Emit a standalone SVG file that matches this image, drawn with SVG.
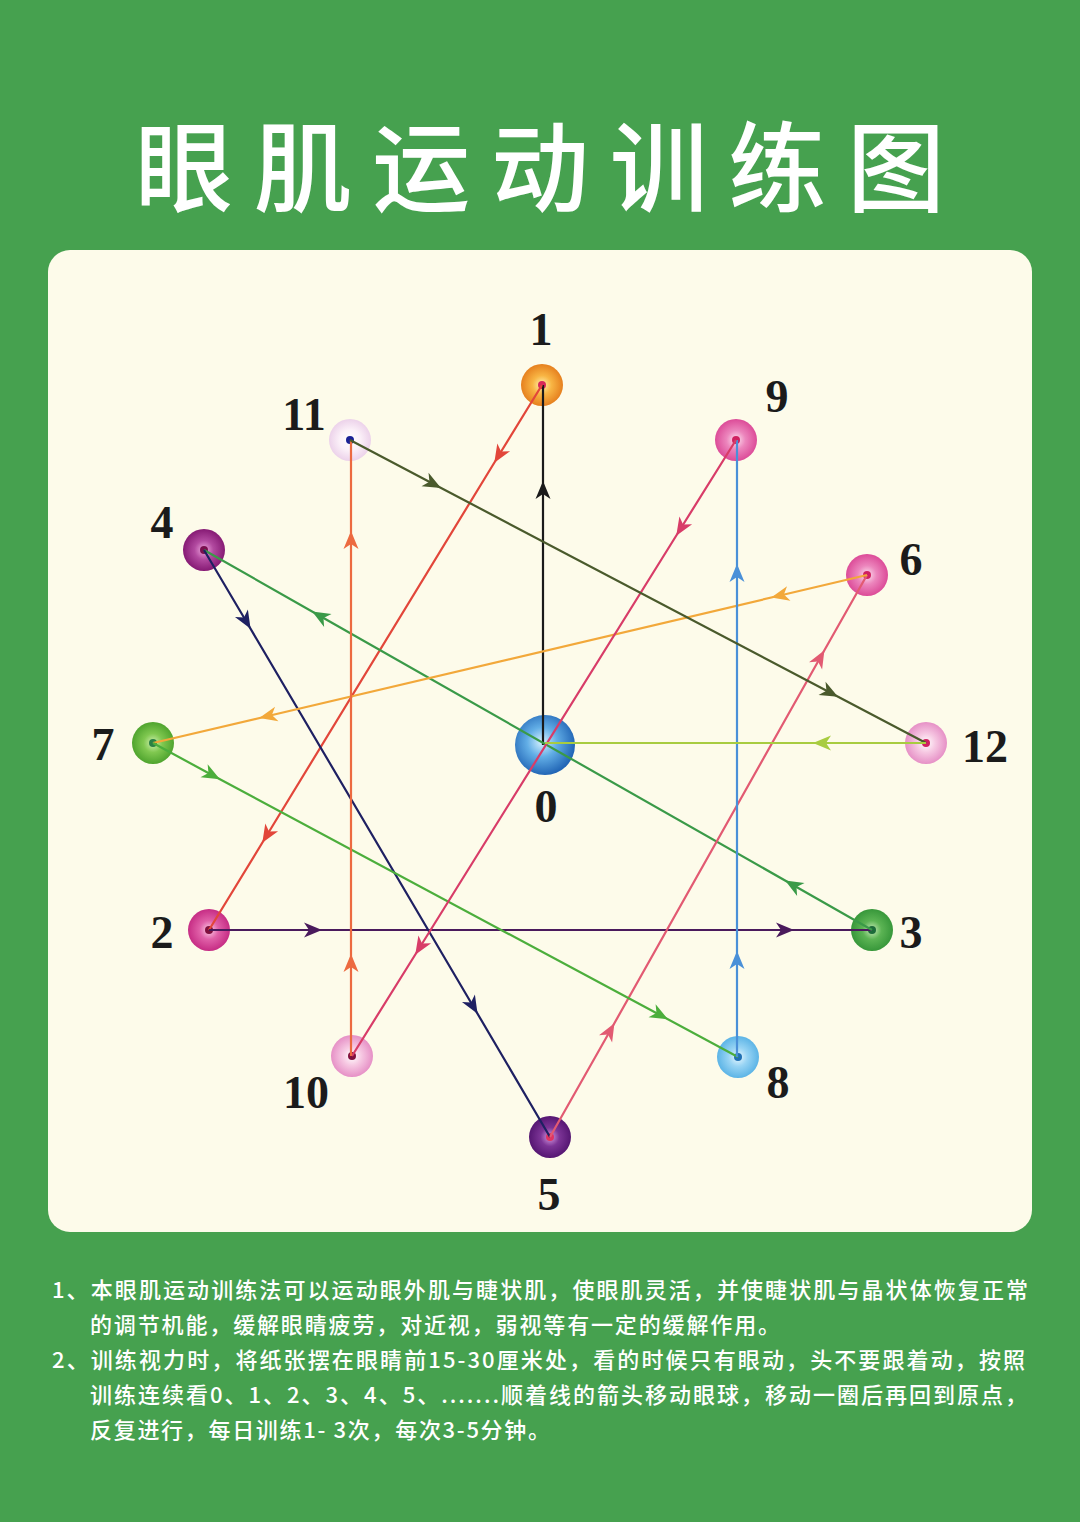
<svg xmlns="http://www.w3.org/2000/svg" width="1080" height="1522" viewBox="0 0 1080 1522">
<style>
.lbl{font-family:"Liberation Serif","DejaVu Serif",serif;font-weight:700;font-size:46px;fill:#1b1b1b;text-anchor:middle}
.title{font-family:"Noto Sans CJK SC","Noto Sans",sans-serif;font-weight:500;font-size:98px;fill:#ffffff}
.note{font-family:"Noto Sans CJK SC","Noto Sans",sans-serif;font-weight:500;font-size:22px;fill:#ffffff}
.cn{fill:none;stroke-width:2.2;stroke-linejoin:round}
</style>
<defs>
<radialGradient id="g1"><stop offset="0" stop-color="#fff3b0"/><stop offset="0.45" stop-color="#f8b544"/><stop offset="1" stop-color="#e6801e"/></radialGradient>
<radialGradient id="gpink"><stop offset="0" stop-color="#fde3f0"/><stop offset="0.45" stop-color="#ec86bd"/><stop offset="1" stop-color="#dc4b98"/></radialGradient>
<radialGradient id="g11"><stop offset="0" stop-color="#ffffff"/><stop offset="0.5" stop-color="#fbf0f8"/><stop offset="1" stop-color="#ecd2ea"/></radialGradient>
<radialGradient id="g4"><stop offset="0" stop-color="#f0a8e0"/><stop offset="0.45" stop-color="#b24aa0"/><stop offset="1" stop-color="#861a74"/></radialGradient>
<radialGradient id="g7"><stop offset="0" stop-color="#d0f0b0"/><stop offset="0.45" stop-color="#80c850"/><stop offset="1" stop-color="#4fa42e"/></radialGradient>
<radialGradient id="g0" cx="0.45" cy="0.45" r="0.55"><stop offset="0" stop-color="#d8f2ff"/><stop offset="0.45" stop-color="#62aee6"/><stop offset="1" stop-color="#2266b6"/></radialGradient>
<radialGradient id="glpink"><stop offset="0" stop-color="#ffffff"/><stop offset="0.45" stop-color="#f6c8e2"/><stop offset="1" stop-color="#e690c6"/></radialGradient>
<radialGradient id="g2"><stop offset="0" stop-color="#fcd0e8"/><stop offset="0.45" stop-color="#e060a8"/><stop offset="1" stop-color="#c62c84"/></radialGradient>
<radialGradient id="g3"><stop offset="0" stop-color="#c8eab8"/><stop offset="0.45" stop-color="#5cb454"/><stop offset="1" stop-color="#37973a"/></radialGradient>
<radialGradient id="g8"><stop offset="0" stop-color="#eaf8ff"/><stop offset="0.45" stop-color="#98d4f4"/><stop offset="1" stop-color="#5cb4e6"/></radialGradient>
<radialGradient id="g5"><stop offset="0" stop-color="#d69ae0"/><stop offset="0.45" stop-color="#7c3496"/><stop offset="1" stop-color="#551672"/></radialGradient>
<marker id="a01" viewBox="-10 -8 20 16" refX="0" refY="0" markerWidth="20" markerHeight="16" markerUnits="userSpaceOnUse" orient="auto"><path d="M9,0 L-9,-7.5 L-4,0 L-9,7.5 Z" fill="#1a1a1a"/></marker>
<marker id="a12" viewBox="-10 -8 20 16" refX="0" refY="0" markerWidth="20" markerHeight="16" markerUnits="userSpaceOnUse" orient="auto"><path d="M9,0 L-9,-7.5 L-4,0 L-9,7.5 Z" fill="#e2463a"/></marker>
<marker id="a23" viewBox="-10 -8 20 16" refX="0" refY="0" markerWidth="20" markerHeight="16" markerUnits="userSpaceOnUse" orient="auto"><path d="M9,0 L-9,-7.5 L-4,0 L-9,7.5 Z" fill="#4a1a5c"/></marker>
<marker id="a34" viewBox="-10 -8 20 16" refX="0" refY="0" markerWidth="20" markerHeight="16" markerUnits="userSpaceOnUse" orient="auto"><path d="M9,0 L-9,-7.5 L-4,0 L-9,7.5 Z" fill="#3a9a48"/></marker>
<marker id="a45" viewBox="-10 -8 20 16" refX="0" refY="0" markerWidth="20" markerHeight="16" markerUnits="userSpaceOnUse" orient="auto"><path d="M9,0 L-9,-7.5 L-4,0 L-9,7.5 Z" fill="#1e2062"/></marker>
<marker id="a56" viewBox="-10 -8 20 16" refX="0" refY="0" markerWidth="20" markerHeight="16" markerUnits="userSpaceOnUse" orient="auto"><path d="M9,0 L-9,-7.5 L-4,0 L-9,7.5 Z" fill="#e25a72"/></marker>
<marker id="a67" viewBox="-10 -8 20 16" refX="0" refY="0" markerWidth="20" markerHeight="16" markerUnits="userSpaceOnUse" orient="auto"><path d="M9,0 L-9,-7.5 L-4,0 L-9,7.5 Z" fill="#f2a83a"/></marker>
<marker id="a78" viewBox="-10 -8 20 16" refX="0" refY="0" markerWidth="20" markerHeight="16" markerUnits="userSpaceOnUse" orient="auto"><path d="M9,0 L-9,-7.5 L-4,0 L-9,7.5 Z" fill="#4cae3c"/></marker>
<marker id="a89" viewBox="-10 -8 20 16" refX="0" refY="0" markerWidth="20" markerHeight="16" markerUnits="userSpaceOnUse" orient="auto"><path d="M9,0 L-9,-7.5 L-4,0 L-9,7.5 Z" fill="#4a90d8"/></marker>
<marker id="a910" viewBox="-10 -8 20 16" refX="0" refY="0" markerWidth="20" markerHeight="16" markerUnits="userSpaceOnUse" orient="auto"><path d="M9,0 L-9,-7.5 L-4,0 L-9,7.5 Z" fill="#d83c68"/></marker>
<marker id="a1011" viewBox="-10 -8 20 16" refX="0" refY="0" markerWidth="20" markerHeight="16" markerUnits="userSpaceOnUse" orient="auto"><path d="M9,0 L-9,-7.5 L-4,0 L-9,7.5 Z" fill="#ec6a40"/></marker>
<marker id="a1112" viewBox="-10 -8 20 16" refX="0" refY="0" markerWidth="20" markerHeight="16" markerUnits="userSpaceOnUse" orient="auto"><path d="M9,0 L-9,-7.5 L-4,0 L-9,7.5 Z" fill="#4a5a2c"/></marker>
<marker id="a120" viewBox="-10 -8 20 16" refX="0" refY="0" markerWidth="20" markerHeight="16" markerUnits="userSpaceOnUse" orient="auto"><path d="M9,0 L-9,-7.5 L-4,0 L-9,7.5 Z" fill="#a8cc40"/></marker>
</defs>
<rect x="0" y="0" width="1080" height="1522" fill="#46a14f"/>
<text class="title" x="135" y="204" textLength="810" lengthAdjust="spacing">眼肌运动训练图</text>
<rect x="48" y="250" width="984" height="982" rx="22" fill="#fdfbea"/>
<g id="nodes">
<g id="node-0"><circle cx="545" cy="745" r="30" fill="url(#g0)"/><text class="lbl" x="546" y="822">0</text></g>
<g id="node-1"><circle cx="542" cy="385" r="21" fill="url(#g1)"/><circle cx="542" cy="385" r="4" fill="#d8285a"/><text class="lbl" x="541" y="345">1</text></g>
<g id="node-2"><circle cx="209" cy="930" r="21" fill="url(#g2)"/><circle cx="209" cy="930" r="4" fill="#80103e"/><text class="lbl" x="162" y="948">2</text></g>
<g id="node-3"><circle cx="872" cy="930" r="21" fill="url(#g3)"/><circle cx="872" cy="930" r="4" fill="#1c6a3a"/><text class="lbl" x="911" y="948">3</text></g>
<g id="node-4"><circle cx="204" cy="550" r="21" fill="url(#g4)"/><circle cx="204" cy="550" r="4" fill="#78104e"/><text class="lbl" x="162" y="538">4</text></g>
<g id="node-5"><circle cx="550" cy="1137" r="21" fill="url(#g5)"/><circle cx="550" cy="1137" r="4" fill="#e03462"/><text class="lbl" x="549" y="1210">5</text></g>
<g id="node-6"><circle cx="867" cy="575" r="21" fill="url(#gpink)"/><circle cx="867" cy="575" r="4" fill="#d02060"/><text class="lbl" x="911" y="575">6</text></g>
<g id="node-7"><circle cx="153" cy="743" r="21" fill="url(#g7)"/><circle cx="153" cy="743" r="4" fill="#2a8044"/><text class="lbl" x="103" y="760">7</text></g>
<g id="node-8"><circle cx="738" cy="1057" r="21" fill="url(#g8)"/><circle cx="738" cy="1057" r="4" fill="#2070b4"/><text class="lbl" x="778" y="1098">8</text></g>
<g id="node-9"><circle cx="736" cy="440" r="21" fill="url(#gpink)"/><circle cx="736" cy="440" r="4" fill="#d02060"/><text class="lbl" x="777" y="412">9</text></g>
<g id="node-10"><circle cx="352" cy="1056" r="21" fill="url(#glpink)"/><circle cx="352" cy="1056" r="4" fill="#80103e"/><text class="lbl" x="306" y="1108">10</text></g>
<g id="node-11"><circle cx="350" cy="440" r="21" fill="url(#g11)"/><circle cx="350" cy="440" r="4" fill="#1a2296"/><text class="lbl" x="304" y="430">11</text></g>
<g id="node-12"><circle cx="926" cy="743" r="21" fill="url(#glpink)"/><circle cx="926" cy="743" r="4" fill="#d02060"/><text class="lbl" x="985" y="762">12</text></g>
</g>
<g id="connectors">
<polyline class="cn" stroke="#1a1a1a" marker-mid="url(#a01)" points="543,745 543,490 543,385"/>
<polyline class="cn" stroke="#e2463a" marker-mid="url(#a12)" points="542,385 499,455 267,835 209,930"/>
<polyline class="cn" stroke="#4a1a5c" marker-mid="url(#a23)" points="209,930 313,930 785,930 872,930"/>
<polyline class="cn" stroke="#3a9a48" marker-mid="url(#a34)" points="872,930 793,885 320,616 204,550"/>
<polyline class="cn" stroke="#1e2062" marker-mid="url(#a45)" points="204,550 246,621 473,1006 550,1137"/>
<polyline class="cn" stroke="#e25a72" marker-mid="url(#a56)" points="550,1137 610,1031 820,658 867,575"/>
<polyline class="cn" stroke="#f2a83a" marker-mid="url(#a67)" points="867,575 780,595.5 268,716 153,743"/>
<polyline class="cn" stroke="#4cae3c" marker-mid="url(#a78)" points="153,743 212,775 660,1015 738,1057"/>
<polyline class="cn" stroke="#4a90d8" marker-mid="url(#a89)" points="737,1057 737,960 737,573 737,440"/>
<polyline class="cn" stroke="#d83c68" marker-mid="url(#a910)" points="736,440 681,528 420,947 352,1056"/>
<polyline class="cn" stroke="#ec6a40" marker-mid="url(#a1011)" points="351,1056 351,963 351,540 351,440"/>
<polyline class="cn" stroke="#4a5a2c" marker-mid="url(#a1112)" points="350,440 433,483.7 830,692.5 926,743"/>
<polyline class="cn" stroke="#a8cc40" marker-mid="url(#a120)" points="926,743 822,743 545,743"/>
</g>
<g id="notes">
<text class="note" x="52" y="1298" textLength="976" lengthAdjust="spacing">1、本眼肌运动训练法可以运动眼外肌与睫状肌，使眼肌灵活，并使睫状肌与晶状体恢复正常</text>
<text class="note" x="90" y="1333" textLength="690" lengthAdjust="spacing">的调节机能，缓解眼睛疲劳，对近视，弱视等有一定的缓解作用。</text>
<text class="note" x="52" y="1368" textLength="973" lengthAdjust="spacing">2、训练视力时，将纸张摆在眼睛前15-30厘米处，看的时候只有眼动，头不要跟着动，按照</text>
<text class="note" x="90" y="1403" textLength="937" lengthAdjust="spacing">训练连续看0、1、2、3、4、5、.......顺着线的箭头移动眼球，移动一圈后再回到原点，</text>
<text class="note" x="90" y="1438" textLength="460" lengthAdjust="spacing">反复进行，每日训练1- 3次，每次3-5分钟。</text>
</g>
</svg>
